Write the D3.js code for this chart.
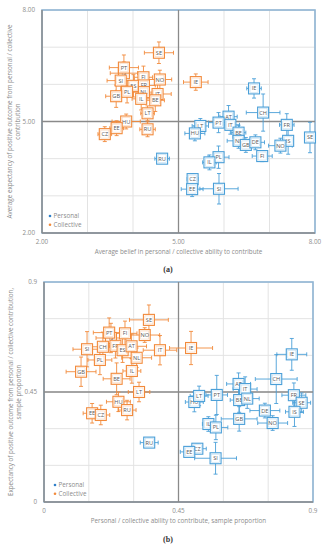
<!DOCTYPE html>
<html><head><meta charset="utf-8">
<script src="https://cdn.jsdelivr.net/npm/d3@7"></script>
<style>body{margin:0;background:#fff}svg{display:block}</style>
</head><body>
<svg id="c" width="335" height="550"></svg>
<script>
// [code, x, y, xErr, yErr]
const aPersonal = [
["IE",6.66,5.89,0.16,0.26],["CH",6.86,5.24,0.37,0.5],["AT",6.10,5.13,0.19,0.3],["PT",5.88,4.97,0.22,0.27],
["IT",6.14,4.91,0.2,0.25],["LT",5.48,4.88,0.18,0.2],["HU",5.36,4.68,0.22,0.2],["FR",7.38,4.91,0.16,0.3],
["BE",6.32,4.70,0.16,0.2],["NL",6.32,4.48,0.25,0.2],["GB",6.48,4.37,0.15,0.2],["DE",6.69,4.44,0.2,0.2],
["IS",7.41,4.48,0.1,0.36],["NO",7.24,4.35,0.26,0.2],["SE",7.89,4.57,0.12,0.41],["FI",6.84,4.07,0.22,0.15],
["PL",5.88,4.04,0.23,0.3],["IL",5.68,3.90,0.15,0.2],["CZ",5.31,3.45,0.12,0.15],["EE",5.30,3.18,0.24,0.2],
["SI",5.89,3.19,0.42,0.41],["RU",4.64,4.00,0.16,0.12]
];
const aCollective = [
["SE",4.57,6.85,0.32,0.29],["IS",3.80,6.30,0.3,0.3],["PT",3.80,6.45,0.32,0.34],["FI",4.23,6.19,0.2,0.3],
["SI",3.73,6.10,0.3,0.3],["ES",4.01,5.96,0.25,0.3],["FR",4.24,5.97,0.25,0.3],["NO",4.59,6.13,0.26,0.25],
["PL",3.87,5.80,0.25,0.3],["NL",4.24,5.79,0.25,0.3],["GB",3.63,5.68,0.23,0.3],["IL",4.18,5.61,0.2,0.3],
["IT",4.54,5.74,0.3,0.3],["BE",4.49,5.57,0.2,0.3],["LT",4.32,5.22,0.15,0.2],["HU",3.85,5.00,0.31,0.2],
["EE",3.64,4.82,0.15,0.2],["CZ",3.38,4.66,0.15,0.2],["RU",4.32,4.79,0.17,0.2],["IE",5.38,6.06,0.27,0.22]
];
const bPersonal = [
["IE",0.829,0.604,0.05,0.065],["CH",0.777,0.503,0.07,0.1],["AT",0.651,0.483,0.04,0.045],["IT",0.673,0.462,0.04,0.05],
["PT",0.578,0.438,0.036,0.08],["HU",0.503,0.409,0.03,0.04],["LT",0.519,0.434,0.03,0.04],["BE",0.653,0.417,0.03,0.05],
["NL",0.680,0.423,0.04,0.04],["FR",0.836,0.437,0.04,0.05],["SE",0.862,0.406,0.03,0.04],["DE",0.739,0.374,0.05,0.03],
["IS",0.838,0.369,0.03,0.06],["GB",0.653,0.340,0.06,0.05],["NO",0.765,0.323,0.05,0.03],["IL",0.550,0.319,0.02,0.03],
["PL",0.575,0.305,0.04,0.05],["RU",0.352,0.243,0.03,0.02],["CZ",0.513,0.218,0.03,0.02],["EE",0.486,0.205,0.03,0.02],
["SI",0.574,0.179,0.07,0.065]
];
const bCollective = [
["SE",0.351,0.745,0.065,0.061],["IS",0.224,0.671,0.05,0.06],["PT",0.218,0.693,0.053,0.06],["FI",0.271,0.690,0.04,0.05],
["NO",0.337,0.683,0.05,0.03],["SI",0.144,0.625,0.047,0.072],["CH",0.197,0.635,0.05,0.06],["FR",0.239,0.639,0.05,0.05],
["ES",0.263,0.621,0.04,0.05],["AT",0.293,0.637,0.05,0.05],["NL",0.310,0.590,0.05,0.04],["IT",0.388,0.621,0.056,0.06],
["PL",0.187,0.581,0.04,0.06],["GB",0.124,0.533,0.05,0.06],["IL",0.294,0.536,0.03,0.05],["BE",0.243,0.504,0.045,0.065],
["LT",0.318,0.450,0.036,0.04],["IE",0.492,0.630,0.072,0.068],["HU",0.249,0.410,0.04,0.04],["RU",0.278,0.376,0.03,0.04],
["EE",0.161,0.363,0.03,0.04],["CZ",0.190,0.356,0.03,0.04]
];
const aTicks = [2,3,4,5,6,7,8];
const aTickLabels = ["2.00","5.00","8.00"];
const bTicks = [0,0.15,0.3,0.45,0.6,0.75,0.9];
const bTickLabels = ["0","0.45","0.9"];
const seriesNames = ["Personal","Collective"];

const colP = "#4a9fd8", colC = "#f28a3b";
const svg = d3.select("#c");
const font = "'Open Sans', 'Noto Sans', sans-serif";

function panel(o){
  const x = d3.scaleLinear().domain(o.dom).range([o.l,o.r]);
  const y = d3.scaleLinear().domain(o.dom).range([o.b,o.t]);
  const g = svg.append("g");
  // grid
  g.selectAll(".gx").data(o.ticks).enter().append("line")
    .attr("x1",d=>x(d)).attr("x2",d=>x(d)).attr("y1",o.t).attr("y2",o.b)
    .attr("stroke","#e3e3e3").attr("stroke-width",1);
  g.selectAll(".gy").data(o.ticks).enter().append("line")
    .attr("y1",d=>y(d)).attr("y2",d=>y(d)).attr("x1",o.l).attr("x2",o.r)
    .attr("stroke","#e3e3e3").attr("stroke-width",1);
  g.append("rect").attr("x",o.l).attr("y",o.t).attr("width",o.r-o.l).attr("height",o.b-o.t)
    .attr("fill","none").attr("stroke","#8fb5d4").attr("stroke-width",1.6);
  // axes
  const mid = o.ticks[3];
  g.append("line").attr("x1",o.l).attr("x2",o.l).attr("y1",o.t).attr("y2",o.b).attr("stroke","#8a8a8a").attr("stroke-width",1.4);
  g.append("line").attr("x1",o.l).attr("x2",o.r).attr("y1",o.b).attr("y2",o.b).attr("stroke","#8a8a8a").attr("stroke-width",1.4);
  g.append("line").attr("x1",x(mid)).attr("x2",x(mid)).attr("y1",o.t).attr("y2",o.b).attr("stroke","#8a8a8a").attr("stroke-width",1.3);
  g.append("line").attr("x1",o.l).attr("x2",o.r).attr("y1",y(mid)).attr("y2",y(mid)).attr("stroke","#8a8a8a").attr("stroke-width",1.3);
  // tick labels
  const tv = [o.ticks[0],o.ticks[3],o.ticks[6]];
  g.selectAll(".ty").data(tv).enter().append("text")
    .attr("x",o.l-7).attr("y",d=>y(d)+2).attr("text-anchor","end")
    .attr("font-size",6.3).attr("font-family",font).attr("fill","#8c8c8c").text((d,i)=>o.labels[i]);
  g.selectAll(".tx").data(tv).enter().append("text")
    .attr("x",d=>x(d)).attr("y",o.b+11).attr("text-anchor","middle")
    .attr("font-size",6.3).attr("font-family",font).attr("fill","#8c8c8c").text((d,i)=>o.labels[i]);
  // titles
  g.append("text").attr("x",x(mid)).attr("y",o.b+21).attr("text-anchor","middle")
    .attr("font-size",6.3).attr("font-family",font).attr("fill","#8c8c8c").text(o.xt);
  const yc = y(mid);
  o.yt.forEach((s,i)=>{
    g.append("text").attr("transform",`translate(${o.ytx[i]},${yc}) rotate(-90)`).attr("text-anchor","middle")
      .attr("font-size",6.3).attr("font-family",font).attr("fill","#8c8c8c").text(s);
  });
  // series
  [[o.p,colP],[o.c,colC]].forEach(([data,col])=>{
    const s = g.append("g");
    const cap = 2;
    data.forEach(d=>{
      const cx=x(d[1]), cy=y(d[2]), x0=x(d[1]-d[3]), x1=x(d[1]+d[3]), y0=y(d[2]-d[4]), y1=y(d[2]+d[4]);
      const e = s.append("g").attr("stroke",col).attr("stroke-width",0.9);
      e.append("line").attr("x1",x0).attr("x2",x1).attr("y1",cy).attr("y2",cy);
      e.append("line").attr("x1",cx).attr("x2",cx).attr("y1",y0).attr("y2",y1);
      e.append("line").attr("x1",x0).attr("x2",x0).attr("y1",cy-cap).attr("y2",cy+cap);
      e.append("line").attr("x1",x1).attr("x2",x1).attr("y1",cy-cap).attr("y2",cy+cap);
      e.append("line").attr("x1",cx-cap).attr("x2",cx+cap).attr("y1",y0).attr("y2",y0);
      e.append("line").attr("x1",cx-cap).attr("x2",cx+cap).attr("y1",y1).attr("y2",y1);
    });
    data.forEach(d=>{
      const cx=x(d[1]), cy=y(d[2]);
      s.append("rect").attr("x",cx-5.5).attr("y",cy-5.5).attr("width",11).attr("height",11)
        .attr("fill","#fff").attr("stroke",col).attr("stroke-width",1.1);
      s.append("rect").attr("x",cx-4).attr("y",cy-4).attr("width",8).attr("height",8)
        .attr("fill","none").attr("stroke",col).attr("stroke-opacity",0.35).attr("stroke-width",0.6);
      s.append("text").attr("x",cx).attr("y",cy+2).attr("text-anchor","middle")
        .attr("font-size",5.6).attr("font-family",font).attr("fill","#595959").text(d[0]);
    });
  });
  // legend
  seriesNames.forEach((n,i)=>{
    g.append("circle").attr("cx",o.lgx).attr("cy",o.lgy+i*8.7).attr("r",1.3).attr("fill",i?colC:"#2f7fc8");
    g.append("text").attr("x",o.lgx+3.5).attr("y",o.lgy+i*8.7+2).attr("font-size",6.3)
      .attr("font-family",font).attr("fill","#8c8c8c").text(n);
  });
  svg.append("text").attr("x",o.capx).attr("y",o.capy).attr("text-anchor","middle")
    .attr("font-size",8).attr("font-weight","bold").attr("font-family","'Liberation Serif', serif")
    .attr("fill","#333").text(o.cap);
}

panel({dom:[2,8],ticks:aTicks,labels:aTickLabels,l:42,r:315,t:10,b:233,
  xt:"Average belief in personal / collective ability to contribute",
  yt:["Average expectancy of positive outcome from personal / collective","contribution"],ytx:[12,19.5],
  p:aPersonal,c:aCollective,lgx:50,lgy:216,cap:"(a)",capx:168,capy:272});
panel({dom:[0,0.9],ticks:bTicks,labels:bTickLabels,l:44,r:313,t:282,b:502,
  xt:"Personal / collective ability to contribute,  sample proportion",
  yt:["Expectancy of positive outcome from personal / collective contribution,","sample proportion"],ytx:[13,20.5],
  p:bPersonal,c:bCollective,lgx:55,lgy:485,cap:"(b)",capx:168,capy:542});
</script>
</body></html>
